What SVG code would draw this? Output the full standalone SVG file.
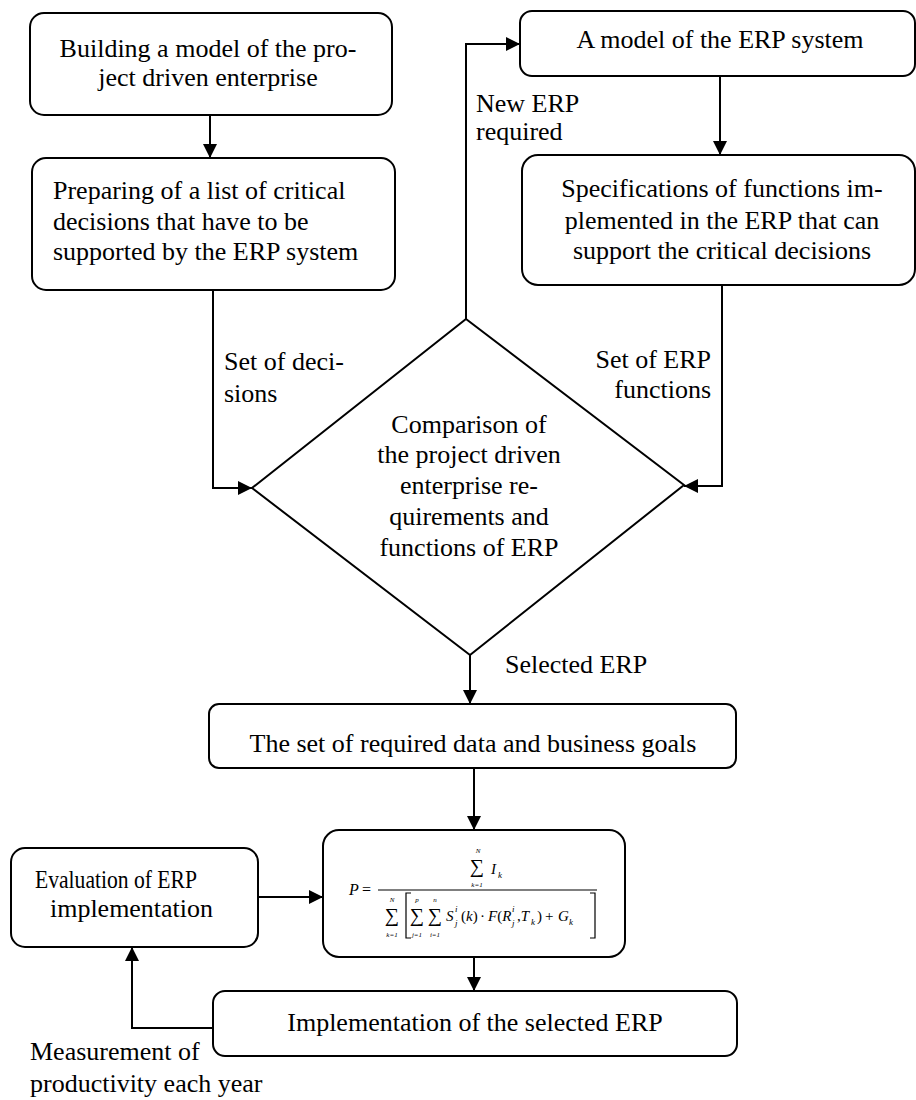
<svg xmlns="http://www.w3.org/2000/svg" width="916" height="1100" viewBox="0 0 916 1100">
<style>
.box{fill:#fff;stroke:#000;stroke-width:2}
.t{font-family:"Liberation Serif","Times New Roman",serif;font-size:26px;fill:#000}
.m{text-anchor:middle}
.e{text-anchor:end}
.f{font-family:"Liberation Serif","Times New Roman",serif;fill:#000}
.c line,.c polyline{fill:none;stroke:#000;stroke-width:2;marker-end:url(#ah)}
</style>
<defs>
<marker id="ah" markerWidth="14" markerHeight="14" refX="14" refY="7" orient="auto" markerUnits="userSpaceOnUse">
<path d="M0,0 L14,7 L0,14 z" fill="#000"/>
</marker>
</defs>
<rect width="916" height="1100" fill="#fff"/>

<g class="c" id="connectors">
<line x1="210" y1="115" x2="210" y2="158"/>
<polyline points="213,290 213,488 252,488"/>
<polyline points="722,285 722,486 684,486"/>
<polyline points="466,319 466,44 520,44"/>
<line x1="720" y1="76" x2="720" y2="155"/>
<line x1="470" y1="655" x2="470" y2="704"/>
<line x1="474" y1="768" x2="474" y2="830"/>
<line x1="474" y1="957" x2="474" y2="991"/>
<line x1="258" y1="897" x2="323" y2="897"/>
<polyline points="213,1028 132,1028 132,947"/>
</g>

<g id="n-building">
<rect class="box" x="30" y="13" width="362" height="102" rx="14"/>
<text class="t m" x="208" y="57">Building a model of the pro-</text>
<text class="t m" x="208" y="86">ject driven enterprise</text>
</g>

<g id="n-preparing">
<rect class="box" x="32" y="158" width="363" height="132" rx="14"/>
<text class="t" x="53" y="199">Preparing of a list of critical</text>
<text class="t" x="53" y="230">decisions that have to be</text>
<text class="t" x="53" y="260">supported by the ERP system</text>
</g>

<g id="n-model-erp">
<rect class="box" x="520" y="11" width="395" height="65" rx="12"/>
<text class="t m" x="720" y="48">A model of the ERP system</text>
</g>

<g id="n-specs">
<rect class="box" x="522" y="155" width="393" height="130" rx="16"/>
<text class="t m" x="722" y="197">Specifications of functions im-</text>
<text class="t m" x="722" y="229">plemented in the ERP that can</text>
<text class="t m" x="722" y="259">support the critical decisions</text>
</g>

<g id="n-comparison">
<polygon class="box" points="466,319 684,485 470,655 252,488"/>
<text class="t m" x="469" y="433">Comparison of</text>
<text class="t m" x="469" y="463">the project driven</text>
<text class="t m" x="469" y="494">enterprise re-</text>
<text class="t m" x="469" y="525">quirements and</text>
<text class="t m" x="469" y="556">functions of ERP</text>
</g>

<g id="labels">
<text class="t" x="476" y="112">New ERP</text>
<text class="t" x="476" y="140">required</text>
<text class="t" x="224" y="370">Set of deci-</text>
<text class="t" x="224" y="402">sions</text>
<text class="t e" x="711" y="368">Set of ERP</text>
<text class="t e" x="711" y="398">functions</text>
<text class="t" x="505" y="673">Selected ERP</text>
<text class="t" x="30" y="1060">Measurement of</text>
<text class="t" x="30" y="1092">productivity each year</text>
</g>

<g id="n-data">
<rect class="box" x="209" y="704" width="527" height="64" rx="10"/>
<text class="t m" x="473" y="752">The set of required data and business goals</text>
</g>

<g id="n-evaluation">
<rect class="box" x="11" y="848" width="247" height="99" rx="14"/>
<text class="t" x="35" y="888" textLength="162" lengthAdjust="spacingAndGlyphs">Evaluation of ERP</text>
<text class="t" x="50" y="917" textLength="163" lengthAdjust="spacingAndGlyphs">implementation</text>
</g>

<g id="n-formula">
<rect class="box" x="323" y="830" width="302" height="127" rx="16"/>
<text class="f" x="349" y="895" font-size="16" font-style="italic">P</text>
<text class="f" x="362" y="895" font-size="16">=</text>
<line x1="378" y1="890" x2="597" y2="890" stroke="#000" stroke-width="1.2"/>
<!-- numerator -->
<text class="f m" x="478" y="853" font-size="7" font-style="italic">N</text>
<text class="f m" x="477" y="873" font-size="20">∑</text>
<text class="f m" x="477" y="887" font-size="7" font-style="italic">k=1</text>
<text class="f" x="491" y="874" font-size="15" font-style="italic">I</text>
<text class="f" x="498" y="878" font-size="9" font-style="italic">k</text>
<!-- denominator -->
<text class="f m" x="392" y="902" font-size="7" font-style="italic">N</text>
<text class="f m" x="392" y="922" font-size="20">∑</text>
<text class="f m" x="392" y="937" font-size="7" font-style="italic">k=1</text>
<path d="M411,893 L406,893 L406,938 L411,938" fill="none" stroke="#000" stroke-width="1.2"/>
<text class="f m" x="417" y="902" font-size="7" font-style="italic">p</text>
<text class="f m" x="417" y="922" font-size="20">∑</text>
<text class="f m" x="417" y="937" font-size="7" font-style="italic">j=1</text>
<text class="f m" x="435" y="902" font-size="7" font-style="italic">n</text>
<text class="f m" x="435" y="922" font-size="20">∑</text>
<text class="f m" x="435" y="937" font-size="7" font-style="italic">i=1</text>
<text class="f" x="446" y="921" font-size="15" font-style="italic">S</text>
<text class="f" x="455" y="912" font-size="9" font-style="italic">i</text>
<text class="f" x="455" y="926" font-size="9" font-style="italic">j</text>
<text class="f" x="461" y="921" font-size="15">(<tspan font-style="italic">k</tspan>)</text>
<text class="f" x="480" y="921" font-size="15">·</text>
<text class="f" x="488" y="921" font-size="15" font-style="italic">F<tspan font-style="normal">(</tspan>R</text>
<text class="f" x="512" y="912" font-size="9" font-style="italic">i</text>
<text class="f" x="512" y="926" font-size="9" font-style="italic">j</text>
<text class="f" x="517" y="921" font-size="15">,<tspan font-style="italic">T</tspan></text>
<text class="f" x="531" y="925" font-size="9" font-style="italic">k</text>
<text class="f" x="537" y="921" font-size="15">)</text>
<text class="f" x="545" y="921" font-size="15">+</text>
<text class="f" x="558" y="921" font-size="15" font-style="italic">G</text>
<text class="f" x="569" y="925" font-size="9" font-style="italic">k</text>
<path d="M590,893 L595,893 L595,938 L590,938" fill="none" stroke="#000" stroke-width="1.2"/>
</g>

<g id="n-implementation">
<rect class="box" x="213" y="991" width="524" height="65" rx="12"/>
<text class="t m" x="475" y="1031">Implementation of the selected ERP</text>
</g>
</svg>
